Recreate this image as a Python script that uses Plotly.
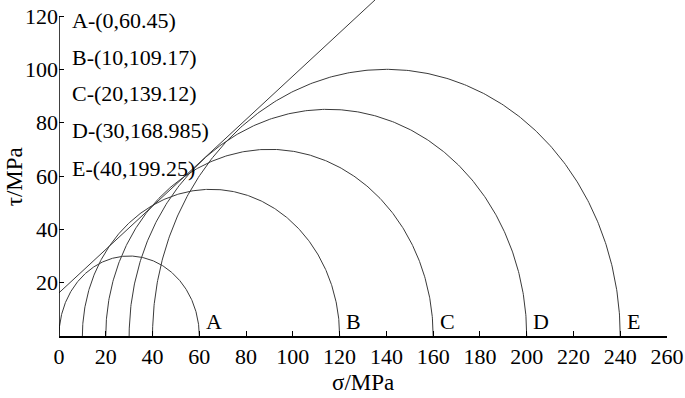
import numpy as np
import plotly.graph_objects as go

# Mohr circles: (sigma3, sigma1) in MPa
circle_names = ["A", "B", "C", "D", "E"]
sigma3 = [0, 10, 20, 30, 40]
sigma1 = [60, 120, 160, 200, 240]
legend_texts = ["A-(0,60.45)", "B-(10,109.17)", "C-(20,139.12)", "D-(30,168.985)", "E-(40,199.25)"]

# Strength envelope: tau = c + sigma * tan(phi)
cohesion = 16.2
phi_deg = 39.1
env_sigma = [0, 160]

x_ticks = list(range(0, 261, 20))
y_ticks = list(range(20, 121, 20))

FONT = "'Times New Roman', 'Liberation Serif', Tinos, serif"
LC = "#3a3a3a"
FS = 22

fig = go.Figure()
theta = np.linspace(0, np.pi, 361)
for s3, s1 in zip(sigma3, sigma1):
    c = (s1 + s3) / 2
    r = (s1 - s3) / 2
    fig.add_trace(go.Scatter(x=c + r * np.cos(theta), y=r * np.sin(theta), mode="lines",
                             line=dict(color=LC, width=1), showlegend=False, hoverinfo="skip"))

env_x = np.array(env_sigma, dtype=float)
env_y = cohesion + env_x * np.tan(np.radians(phi_deg))
fig.add_trace(go.Scatter(x=env_x, y=env_y, mode="lines", line=dict(color=LC, width=1),
                         showlegend=False, hoverinfo="skip"))

# circle end labels
for name, s1 in zip(circle_names, sigma1):
    fig.add_annotation(x=s1 + 2, y=5.6, text=name, showarrow=False, xanchor="left", yanchor="middle",
                       font=dict(family=FONT, size=FS, color="black"))

# legend-like texts
leg_y = [118.5, 104.6, 90.8, 76.9, 63.0]
for t, yy in zip(legend_texts, leg_y):
    fig.add_annotation(x=4.8, y=yy, text=t, showarrow=False, xanchor="left", yanchor="middle",
                       font=dict(family=FONT, size=FS, color="black"))

# y axis line only up to 120
fig.add_shape(type="line", x0=0, x1=0, y0=0, y1=120, xref="x", yref="y",
              line=dict(color="black", width=1.5))

fig.add_annotation(xref="paper", yref="paper", x=0.5, y=0, text="σ/MPa", showarrow=False,
                   xanchor="center", yanchor="middle", yshift=-46, xshift=0,
                   font=dict(family=FONT, size=23, color="black"))
fig.add_annotation(xref="paper", yref="y", x=0, y=59.5, text="τ/MPa", showarrow=False, textangle=-90,
                   xanchor="center", yanchor="middle", xshift=-45,
                   font=dict(family=FONT, size=23, color="black"))

fig.update_layout(
    width=685, height=398,
    margin=dict(l=59, r=18, t=0, b=62),
    plot_bgcolor="white", paper_bgcolor="white",
    font=dict(family=FONT, size=FS, color="black"),
    xaxis=dict(range=[0, 260], tickvals=x_ticks, ticks="inside", ticklen=5, tickwidth=1,
               tickcolor="black", showline=True, linecolor="black", linewidth=1.5,
               showgrid=False, zeroline=False, automargin=False,
               tickfont=dict(family=FONT, size=FS)),
    yaxis=dict(range=[0, 126], tickvals=y_ticks, ticks="inside", ticklen=5, tickwidth=1,
               tickcolor="black", showline=False, showgrid=False, zeroline=False, automargin=False,
               tickfont=dict(family=FONT, size=FS)),
)

fig.write_html("out.html", config={"displayModeBar": False},
               post_script="document.body.style.margin='0';")
